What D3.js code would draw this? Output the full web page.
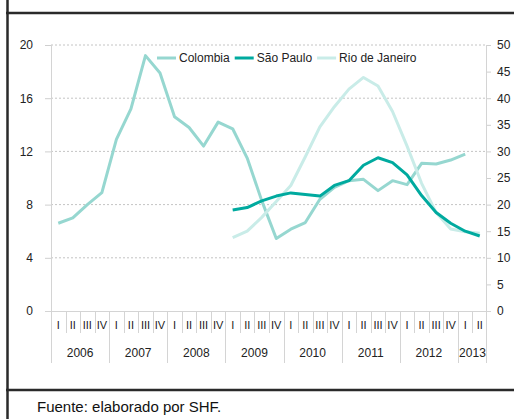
<!DOCTYPE html>
<html><head><meta charset="utf-8">
<script src="https://cdn.jsdelivr.net/npm/d3@7/dist/d3.min.js"></script>
<style>body{margin:0;background:#fff} svg{display:block;font-family:"Liberation Sans",Arial,sans-serif}</style>
</head><body><svg id="c" width="514" height="419"></svg>
<script>
// ---- data ----
const years = ["2006","2007","2008","2009","2010","2011","2012","2013"];
const periodYears = ["2006","2006","2006","2006","2007","2007","2007","2007","2008","2008","2008","2008",
  "2009","2009","2009","2009","2010","2010","2010","2010","2011","2011","2011","2011",
  "2012","2012","2012","2012","2013","2013"];
const periodQuarters = ["I","II","III","IV","I","II","III","IV","I","II","III","IV",
  "I","II","III","IV","I","II","III","IV","I","II","III","IV",
  "I","II","III","IV","I","II"];
const colombia = [6.6,7.0,8.0,8.9,12.9,15.2,19.2,17.9,14.6,13.8,12.4,14.2,
  13.7,11.5,8.3,5.45,6.15,6.65,8.4,9.3,9.8,9.9,9.05,9.8,
  9.5,11.1,11.05,11.35,11.8,null];
const saoPaulo = [null,null,null,null,null,null,null,null,null,null,null,null,
  19.0,19.45,20.7,21.6,22.2,21.9,21.6,23.6,24.5,27.4,28.8,27.9,
  25.6,21.7,18.5,16.5,15.0,14.1];
const rioDeJaneiro = [null,null,null,null,null,null,null,null,null,null,null,null,
  13.8,15.0,17.6,20.6,23.6,29.0,34.6,38.4,41.7,43.9,42.3,37.5,
  31.0,24.0,18.5,15.4,14.9,14.6];
const leftTicks = [0,4,8,12,16,20];
const rightTicks = [0,5,10,15,20,25,30,35,40,45,50];
const seriesNames = ["Colombia","São Paulo","Rio de Janeiro"];
const seriesColors = ["#96d7d0","#00aa9f","#c9ece8"];
const sourceText = "Fuente: elaborado por SHF.";

// ---- chart ----
const svg = d3.select("#c");
const L = 51, R = 487, T = 45, B = 311;
const periods = periodYears.map((y,i)=>y+"-"+periodQuarters[i]);
const x = d3.scaleBand().domain(periods).range([L,R]);
const yL = d3.scaleLinear().domain([0,20]).range([B,T]);
const yR = d3.scaleLinear().domain([0,50]).range([B,T]);

// gridlines
svg.append("g").selectAll("line").data(leftTicks.filter(t=>t>0)).join("line")
  .attr("x1",L).attr("x2",R).attr("y1",d=>yL(d)).attr("y2",d=>yL(d))
  .attr("stroke","#c4c4c4").attr("stroke-width",1).attr("stroke-dasharray","2,2");

// left axis
const gl = svg.append("g").attr("transform",`translate(${L},0)`)
  .call(d3.axisLeft(yL).tickValues(leftTicks).tickSize(6).tickPadding(12).tickFormat(d3.format("d")));
gl.select(".domain").remove();
gl.selectAll(".tick line").attr("stroke","#cfcfcf");
gl.selectAll("text").attr("font-size",12).attr("fill","#222").attr("font-family","Liberation Sans, Arial, sans-serif");

// right axis
const gr = svg.append("g").attr("transform",`translate(${R},0)`)
  .call(d3.axisRight(yR).tickValues(rightTicks).tickSize(4).tickPadding(6).tickFormat(d3.format("d")));
gr.select(".domain").remove();
gr.selectAll(".tick line").attr("stroke","#cfcfcf");
gr.selectAll("text").attr("font-size",12).attr("fill","#222").attr("font-family","Liberation Sans, Arial, sans-serif");

// axis frame lines
svg.append("line").attr("x1",L+0.5).attr("x2",L+0.5).attr("y1",T).attr("y2",363).attr("stroke","#d4d4d4");
svg.append("line").attr("x1",R-0.5).attr("x2",R-0.5).attr("y1",T).attr("y2",363).attr("stroke","#d4d4d4");
svg.append("line").attr("x1",45).attr("x2",491).attr("y1",B+0.5).attr("y2",B+0.5).attr("stroke","#d4d4d4");

// category separators and labels
const cat = svg.append("g");
periods.forEach((p,i)=>{
  if(i>0){
    const xx = Math.round(x(p))+0.5;
    cat.append("line").attr("x1",xx).attr("x2",xx).attr("y1",B)
      .attr("y2", periodQuarters[i]==="I" ? 363 : 333).attr("stroke","#d4d4d4");
  }
  cat.append("text").attr("x",x(p)+x.bandwidth()/2).attr("y",329)
    .attr("text-anchor","middle").attr("font-size",11).attr("fill","#222").text(periodQuarters[i]);
});
years.forEach(yr=>{
  const ps = periods.filter((p,i)=>periodYears[i]===yr);
  const x0 = x(ps[0]), x1 = x(ps[ps.length-1])+x.bandwidth();
  cat.append("text").attr("x",(x0+x1)/2).attr("y",357).attr("text-anchor","middle")
    .attr("font-size",12).attr("fill","#222").text(yr);
});

// lines
const data = [colombia, saoPaulo, rioDeJaneiro];
const scales = [yL, yR, yR];
const drawOrder = [0,2,1];
drawOrder.forEach(k=>{
  const line = d3.line().defined(d=>d!=null)
    .x((d,i)=>x(periods[i])+x.bandwidth()/2).y(d=>scales[k](d));
  svg.append("path").datum(data[k]).attr("d",line).attr("fill","none")
    .attr("stroke",seriesColors[k]).attr("stroke-width",3).attr("stroke-linejoin","round");
});

// legend
const lg = svg.append("g");
let lx = 157;
seriesNames.forEach((n,k)=>{
  lg.append("line").attr("x1",lx).attr("x2",lx+19).attr("y1",58).attr("y2",58)
    .attr("stroke",seriesColors[k]).attr("stroke-width",3);
  const t = lg.append("text").attr("x",lx+22).attr("y",62).attr("font-size",12).attr("fill","#222").text(n);
  lx += 22 + t.node().getComputedTextLength() + 5;
});

// frame
svg.append("line").attr("x1",7.5).attr("x2",7.5).attr("y1",0).attr("y2",419).attr("stroke","#2a2a2a").attr("stroke-width",2.5);
svg.append("line").attr("x1",6).attr("x2",514).attr("y1",13).attr("y2",13).attr("stroke","#2a2a2a").attr("stroke-width",2.5);
svg.append("line").attr("x1",6).attr("x2",514).attr("y1",390).attr("y2",390).attr("stroke","#2a2a2a").attr("stroke-width",2.5);

// source
svg.append("text").attr("x",37).attr("y",412).attr("font-size",15).attr("fill","#111").text(sourceText);
</script></body></html>
